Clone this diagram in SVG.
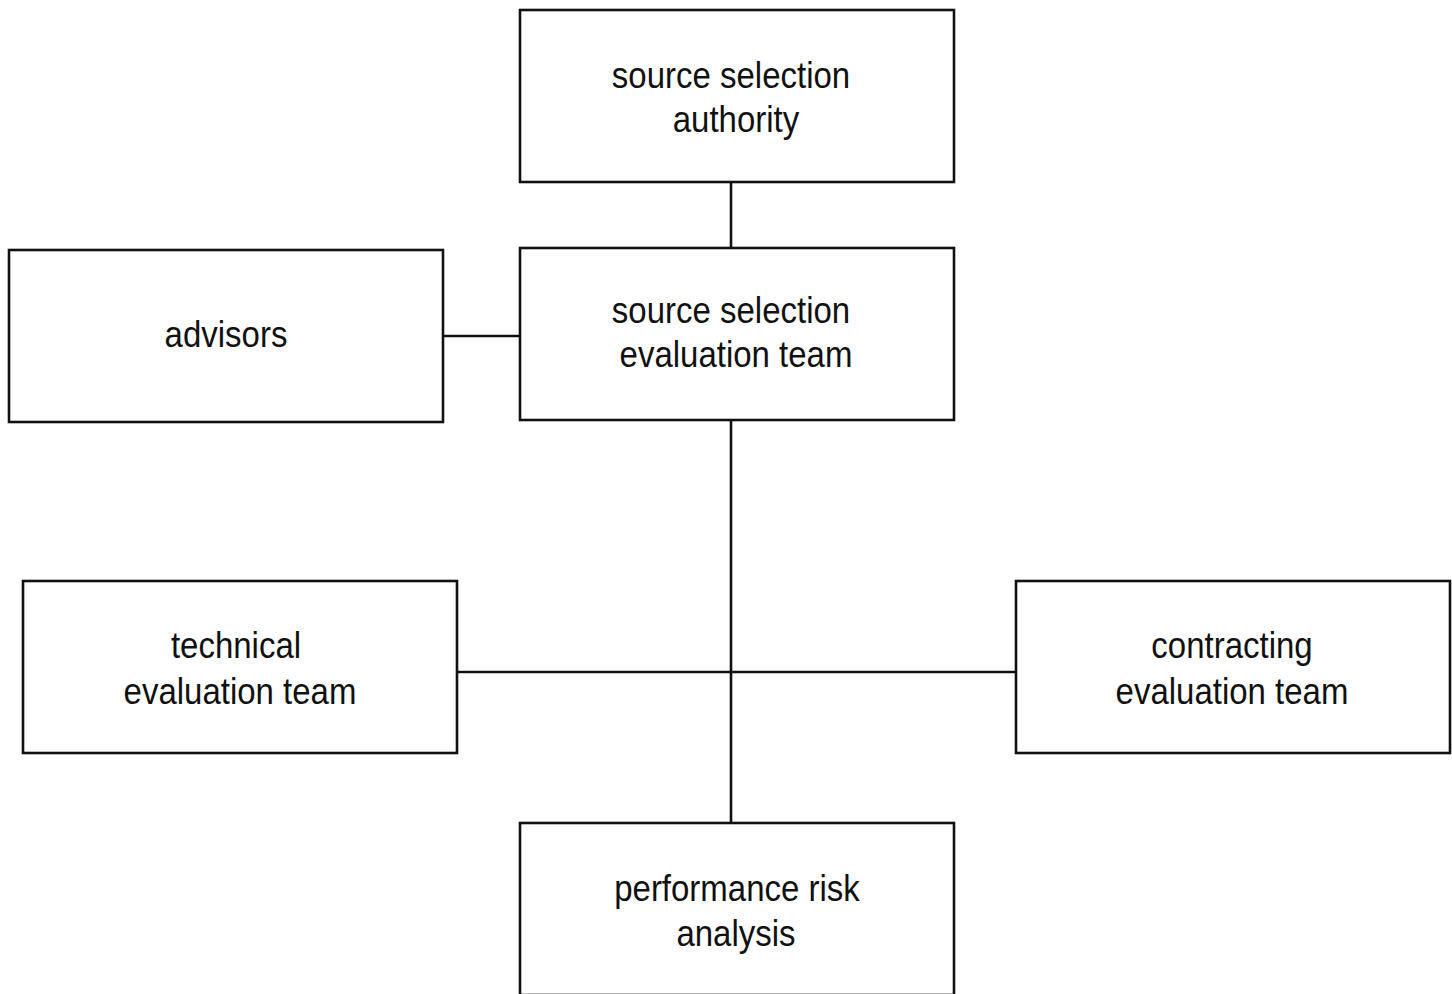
<svg xmlns="http://www.w3.org/2000/svg" width="1452" height="994" viewBox="0 0 1452 994">
  <style>
    .box { fill: #ffffff; stroke: #111111; stroke-width: 2.6; }
    .link { stroke: #111111; stroke-width: 2.6; fill: none; }
    .label { font-family: "Liberation Sans", Arial, sans-serif; font-size: 33px; fill: #111111; text-anchor: middle; }
  </style>
  <rect width="1452" height="994" fill="#ffffff"/>

  <g id="connectors">
    <line class="link" x1="731" y1="182" x2="731" y2="248"/>
    <line class="link" x1="731" y1="420" x2="731" y2="823"/>
    <line class="link" x1="443" y1="336" x2="520" y2="336"/>
    <line class="link" x1="457" y1="672" x2="1016" y2="672"/>
  </g>

  <!-- labels are set slightly tall: each baseline is placed by translate, then stretched vertically -->
  <g id="source-selection-authority">
    <rect class="box" x="520" y="10" width="434" height="172"/>
    <text class="label" transform="translate(731,88) scale(1,1.1)">source selection</text>
    <text class="label" transform="translate(736,132) scale(1,1.1)">authority</text>
  </g>

  <g id="source-selection-evaluation-team">
    <rect class="box" x="520" y="248" width="434" height="172"/>
    <text class="label" transform="translate(731,323) scale(1,1.1)">source selection</text>
    <text class="label" transform="translate(736,367) scale(1,1.1)">evaluation team</text>
  </g>

  <g id="advisors">
    <rect class="box" x="9" y="250" width="434" height="172"/>
    <text class="label" transform="translate(226,347) scale(1,1.1)">advisors</text>
  </g>

  <g id="technical-evaluation-team">
    <rect class="box" x="23" y="581" width="434" height="172"/>
    <text class="label" transform="translate(236,658) scale(1,1.1)">technical</text>
    <text class="label" transform="translate(240,704) scale(1,1.1)">evaluation team</text>
  </g>

  <g id="contracting-evaluation-team">
    <rect class="box" x="1016" y="581" width="434" height="172"/>
    <text class="label" transform="translate(1232,658) scale(1,1.1)">contracting</text>
    <text class="label" transform="translate(1232,704) scale(1,1.1)">evaluation team</text>
  </g>

  <g id="performance-risk-analysis">
    <rect class="box" x="520" y="823" width="434" height="172"/>
    <text class="label" transform="translate(737,901) scale(1,1.1)">performance risk</text>
    <text class="label" transform="translate(736,946) scale(1,1.1)">analysis</text>
  </g>
</svg>
